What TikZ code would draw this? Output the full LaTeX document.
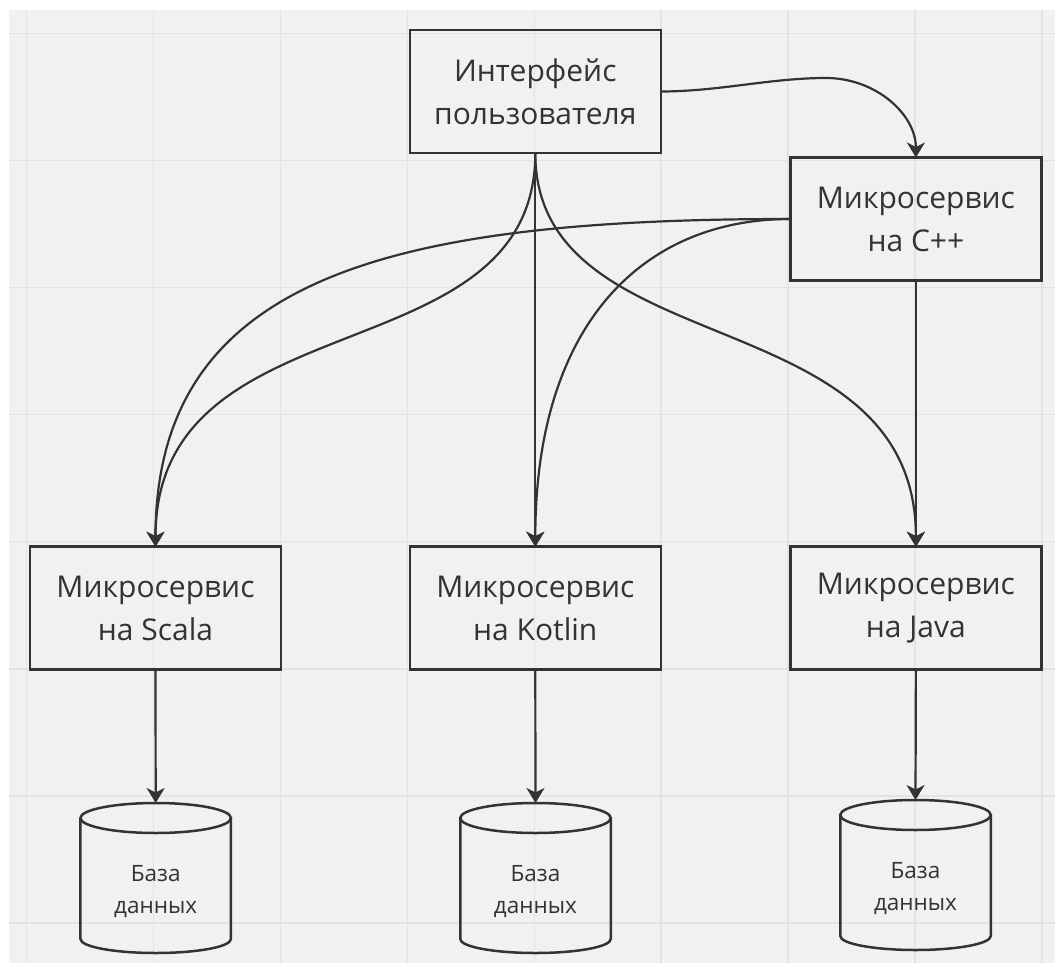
\documentclass[tikz,border=0pt]{standalone}
\usepackage{fontspec}
\setmainfont{Open Sans}
\usetikzlibrary{arrows.meta}
\definecolor{ink}{HTML}{333333}
\definecolor{canvas}{HTML}{F1F1F1}
\definecolor{gridline}{HTML}{E3E3E3}

% cylinder outline around a named store node
\newcommand\drawstore[1]{%
  \draw[dbline] ([yshift=-15pt]#1.north west) -- ([yshift=14pt]#1.south west)
    arc[start angle=180, end angle=360, x radius=75.25pt, y radius=14pt]
    -- ([yshift=-15pt]#1.north east);
  \draw[dbline] ([yshift=-15pt]#1.north) ellipse [x radius=75.25pt, y radius=15pt];
}

\begin{document}
\begin{tikzpicture}[x=1pt, y=-1pt,
  service/.style={draw=ink, line width=2.5pt, minimum width=251pt, minimum height=123pt,
    inner sep=0pt, outer sep=0pt, align=center, text=ink,
    font=\fontsize{30}{43}\selectfont},
  store/.style={minimum width=150.5pt, minimum height=150pt, inner sep=0pt, outer sep=0pt},
  storelabel/.style={align=center, text=ink, inner sep=0pt,
    font=\fontsize{22.5}{32}\selectfont},
  conn/.style={draw=ink, line width=2.2pt, -{Stealth[length=15pt, width=18pt, inset=4.5pt]}},
  dbline/.style={draw=ink, line width=2.5pt},
  gridrule/.style={draw=gridline, line width=1.5pt},
]
\useasboundingbox (0,0) rectangle (1055,963);

% board background with grid
\fill[white] (0,0) rectangle (1055,963);
\fill[canvas] (9,10) rectangle (1055,963);
\foreach \gx in {0,...,8}
  \draw[gridrule] ({26.7+126.9*\gx},10) -- ({26.7+126.9*\gx},963);
\foreach \gy in {0,...,7}
  \draw[gridrule] (9,{33.3+127.1*\gy}) -- (1055,{33.3+127.1*\gy});

% services
\node[service] (ui)     at (535.3, 91.5)  {Интерфейс\\пользователя};
\node[service] (cpp)    at (915.9, 219)   {Микросервис\\на C++};
\node[service] (scala)  at (155.5, 608.2) {Микросервис\\на Scala};
\node[service] (kotlin) at (535.3, 608.2) {Микросервис\\на Kotlin};
\node[service] (java)   at (915.9, 608.2) {Микросервис\\на Java};

% databases
\node[store] (db1) at (155.7, 878) {};
\node[store] (db2) at (535.5, 878) {};
\node[store] (db3) at (915.5, 875) {};
\drawstore{db1}
\drawstore{db2}
\drawstore{db3}
\node[storelabel] (db1t) at (155.7, 892) {База\\данных};
\node[storelabel] (db2t) at (535.5, 892) {База\\данных};
\node[storelabel] (db3t) at (915.5, 889) {База\\данных};

% connectors
\coordinate (uibend) at (826, 78);
\draw[conn] (ui.east) .. controls +(58,0) and +(-56,0) .. (uibend)
  .. controls +(50,0) and +(0,-43) .. (cpp.north);
\draw[conn] (ui.south) .. controls +(0,226) and +(0,-253) .. (scala.north);
\draw[conn] (ui.south) -- (kotlin.north);
\draw[conn] (ui.south) .. controls +(0,214) and +(0,-251) .. (java.north);
\draw[conn] (cpp.west) .. controls +(-400,0) and +(0,-270) .. (scala.north);
\draw[conn] (cpp.west) .. controls +(-150,0) and +(0,-220) .. (kotlin.north);
\draw[conn] (cpp.south) -- (java.north);
\draw[conn] (scala.south) -- (db1.north);
\draw[conn] (kotlin.south) -- (db2.north);
\draw[conn] (java.south) -- (db3.north);
\end{tikzpicture}
\end{document}
